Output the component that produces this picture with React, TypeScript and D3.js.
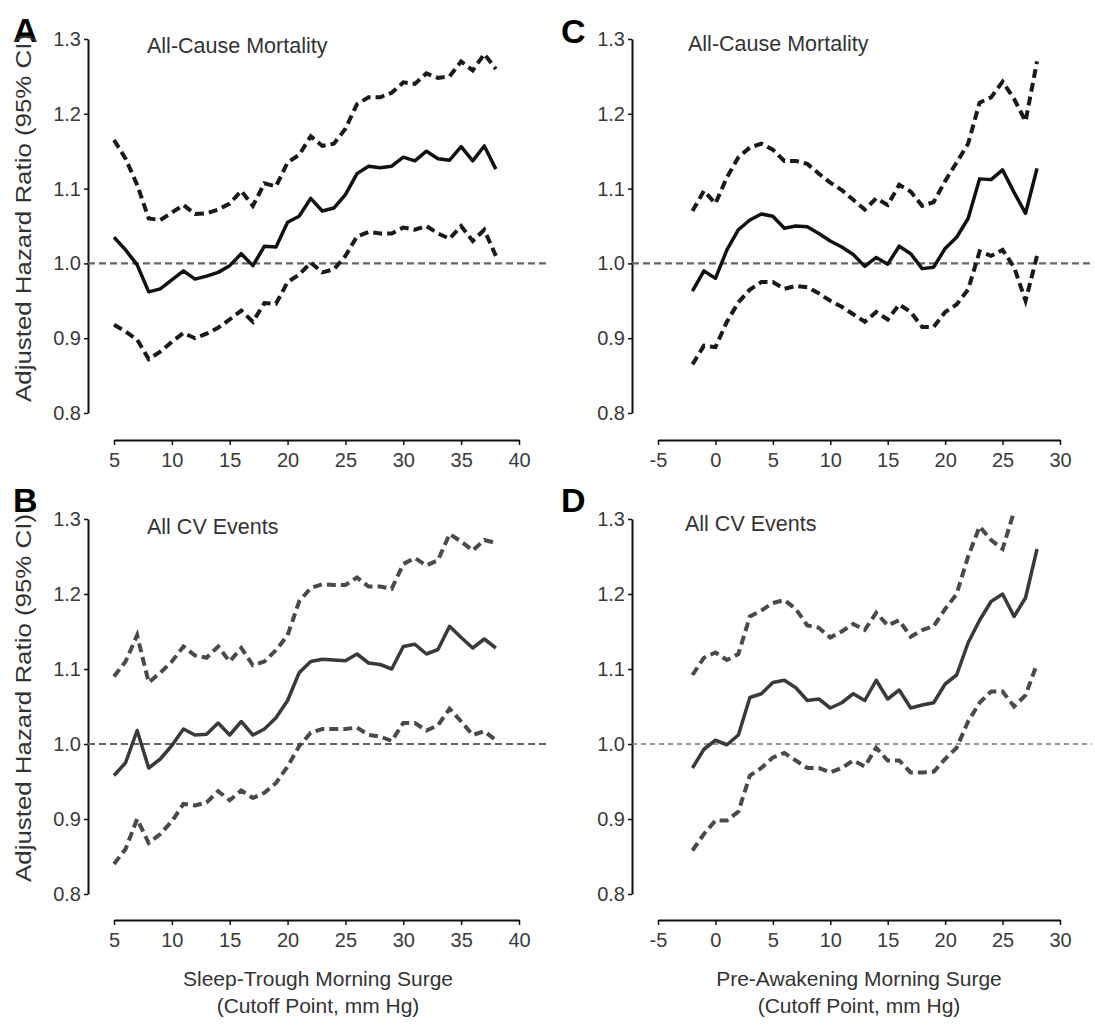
import * as d3 from 'd3';
import React, { useEffect, useRef } from 'react';

// cutoff points (mm Hg)
const sleepTroughX = [5, 6, 7, 8, 9, 10, 11, 12, 13, 14, 15, 16, 17, 18, 19, 20, 21, 22, 23, 24, 25, 26, 27, 28, 29, 30, 31, 32, 33, 34, 35, 36, 37, 38];
const preAwakeX = [-2, -1, 0, 1, 2, 3, 4, 5, 6, 7, 8, 9, 10, 11, 12, 13, 14, 15, 16, 17, 18, 19, 20, 21, 22, 23, 24, 25, 26, 27, 28];
const preAwakeXUpperD = [-2, -1, 0, 1, 2, 3, 4, 5, 6, 7, 8, 9, 10, 11, 12, 13, 14, 15, 16, 17, 18, 19, 20, 21, 22, 23, 24, 25, 26];

// A: sleep-trough, all-cause mortality
const aHR = [1.035, 1.018, 0.998, 0.962, 0.966, 0.978, 0.990, 0.979, 0.983, 0.988, 0.997, 1.013, 0.997, 1.023, 1.022, 1.055, 1.063, 1.087, 1.070, 1.074, 1.092, 1.120, 1.130, 1.128, 1.130, 1.142, 1.137, 1.150, 1.140, 1.138, 1.156, 1.137, 1.157, 1.126];
const aUpper = [1.165, 1.140, 1.105, 1.060, 1.058, 1.068, 1.078, 1.066, 1.067, 1.072, 1.080, 1.097, 1.077, 1.107, 1.103, 1.135, 1.145, 1.170, 1.157, 1.160, 1.180, 1.213, 1.222, 1.222, 1.228, 1.242, 1.240, 1.254, 1.248, 1.250, 1.270, 1.258, 1.280, 1.260];
const aLower = [0.918, 0.909, 0.898, 0.872, 0.882, 0.895, 0.907, 0.900, 0.906, 0.914, 0.925, 0.937, 0.922, 0.947, 0.946, 0.975, 0.985, 1.001, 0.988, 0.992, 1.010, 1.036, 1.042, 1.040, 1.040, 1.048, 1.045, 1.050, 1.040, 1.033, 1.050, 1.030, 1.045, 1.010];

// B: sleep-trough, all CV events
const bHR = [0.958, 0.975, 1.018, 0.968, 0.980, 0.998, 1.020, 1.012, 1.013, 1.028, 1.012, 1.030, 1.012, 1.020, 1.035, 1.058, 1.095, 1.110, 1.113, 1.112, 1.111, 1.120, 1.108, 1.106, 1.100, 1.130, 1.133, 1.120, 1.126, 1.157, 1.142, 1.128, 1.140, 1.128];
const bUpper = [1.090, 1.110, 1.145, 1.082, 1.095, 1.110, 1.130, 1.118, 1.115, 1.130, 1.110, 1.128, 1.105, 1.110, 1.125, 1.145, 1.190, 1.208, 1.213, 1.212, 1.212, 1.222, 1.210, 1.210, 1.207, 1.240, 1.248, 1.238, 1.245, 1.280, 1.270, 1.258, 1.272, 1.268];
const bLower = [0.840, 0.860, 0.900, 0.868, 0.880, 0.897, 0.920, 0.918, 0.922, 0.937, 0.925, 0.938, 0.928, 0.935, 0.948, 0.970, 0.997, 1.015, 1.020, 1.020, 1.020, 1.022, 1.012, 1.010, 1.004, 1.028, 1.028, 1.018, 1.025, 1.047, 1.030, 1.012, 1.017, 1.005];

// C: pre-awakening, all-cause mortality
const cHR = [0.963, 0.990, 0.980, 1.018, 1.045, 1.058, 1.066, 1.063, 1.047, 1.050, 1.049, 1.040, 1.030, 1.022, 1.012, 0.996, 1.008, 0.999, 1.023, 1.013, 0.993, 0.995, 1.020, 1.035, 1.060, 1.113, 1.112, 1.125, 1.095, 1.067, 1.127];
const cUpper = [1.070, 1.097, 1.080, 1.115, 1.142, 1.155, 1.160, 1.152, 1.137, 1.137, 1.133, 1.120, 1.108, 1.098, 1.085, 1.072, 1.087, 1.078, 1.105, 1.096, 1.077, 1.082, 1.110, 1.135, 1.160, 1.215, 1.222, 1.243, 1.220, 1.190, 1.270];
const cLower = [0.865, 0.890, 0.888, 0.922, 0.948, 0.965, 0.975, 0.975, 0.966, 0.970, 0.968, 0.960, 0.950, 0.942, 0.932, 0.922, 0.935, 0.925, 0.945, 0.935, 0.915, 0.915, 0.935, 0.945, 0.965, 1.016, 1.010, 1.018, 0.995, 0.950, 1.010];

// D: pre-awakening, all CV events
const dHR = [0.968, 0.993, 1.005, 0.999, 1.012, 1.062, 1.067, 1.082, 1.085, 1.075, 1.058, 1.060, 1.048, 1.055, 1.067, 1.058, 1.085, 1.060, 1.072, 1.048, 1.052, 1.055, 1.080, 1.092, 1.135, 1.165, 1.190, 1.200, 1.170, 1.195, 1.260];
const dUpper = [1.092, 1.115, 1.122, 1.112, 1.120, 1.170, 1.178, 1.188, 1.192, 1.180, 1.158, 1.155, 1.142, 1.150, 1.160, 1.152, 1.175, 1.158, 1.165, 1.143, 1.152, 1.157, 1.180, 1.200, 1.250, 1.290, 1.272, 1.260, 1.310];
const dLower = [0.858, 0.880, 0.898, 0.898, 0.910, 0.958, 0.968, 0.982, 0.988, 0.978, 0.968, 0.968, 0.962, 0.968, 0.978, 0.970, 0.995, 0.978, 0.978, 0.962, 0.962, 0.963, 0.980, 0.995, 1.030, 1.055, 1.070, 1.070, 1.050, 1.065, 1.107];

const yTicks = [0.8, 0.9, 1.0, 1.1, 1.2, 1.3];
const sleepTicks = [5, 10, 15, 20, 25, 30, 35, 40];
const preTicks = [-5, 0, 5, 10, 15, 20, 25, 30];

const FONT = '"Liberation Sans", Arial, sans-serif';

function App() {
    const ref = useRef();

    useEffect(() => {
        const svg = d3.select(ref.current);
        svg.selectAll('*').remove();

        const panels = [
            { letter: 'A', title: 'All-Cause Mortality', xs: sleepTroughX, hr: aHR, up: aUpper, upX: sleepTroughX, lo: aLower,
              xDom: [5, 40], xRange: [114, 519], yRange: [413, 39], axisY: 440, yAxisX: 88, refEnd: 546, gray: false, thinRef: false,
              letterX: 13, letterY: 42, titleX: 147, titleY: 53 },
            { letter: 'B', title: 'All CV Events', xs: sleepTroughX, hr: bHR, up: bUpper, upX: sleepTroughX, lo: bLower,
              xDom: [5, 40], xRange: [114, 519], yRange: [894, 519], axisY: 920, yAxisX: 88, refEnd: 546, gray: true, thinRef: false,
              letterX: 13, letterY: 512, titleX: 147, titleY: 534 },
            { letter: 'C', title: 'All-Cause Mortality', xs: preAwakeX, hr: cHR, up: cUpper, upX: preAwakeX, lo: cLower,
              xDom: [-5, 30], xRange: [658, 1060], yRange: [413, 39], axisY: 440, yAxisX: 632, refEnd: 1092, gray: false, thinRef: false,
              letterX: 561, letterY: 43, titleX: 688, titleY: 51 },
            { letter: 'D', title: 'All CV Events', xs: preAwakeX, hr: dHR, up: dUpper, upX: preAwakeXUpperD, lo: dLower,
              xDom: [-5, 30], xRange: [658, 1060], yRange: [894, 519], axisY: 920, yAxisX: 632, refEnd: 1092, gray: true, thinRef: true,
              letterX: 561, letterY: 512, titleX: 685, titleY: 531 },
        ];

        panels.forEach(p => {
            const x = d3.scaleLinear().domain(p.xDom).range(p.xRange);
            const y = d3.scaleLinear().domain([0.8, 1.3]).range(p.yRange);
            const g = svg.append('g');

            // y axis
            const ya = g.append('g')
                .attr('transform', `translate(${p.yAxisX},0)`)
                .call(d3.axisLeft(y).tickValues(yTicks).tickFormat(d3.format('.1f')).tickSize(4).tickSizeOuter(0).tickPadding(3));
            ya.select('.domain').attr('stroke', '#111').attr('stroke-width', 2);
            ya.selectAll('.tick line').attr('stroke', '#111').attr('stroke-width', 1.5);
            ya.selectAll('text').attr('font-family', FONT).attr('font-size', 20).attr('fill', '#3a3a3a');

            // x axis
            const xa = g.append('g')
                .attr('transform', `translate(0,${p.axisY})`)
                .call(d3.axisBottom(x).tickValues(p.xDom[0] === 5 ? sleepTicks : preTicks)
                    .tickFormat(d => String(d)).tickSize(5).tickSizeOuter(0).tickPadding(8));
            xa.select('.domain').attr('stroke', '#111').attr('stroke-width', 2);
            xa.selectAll('.tick line').attr('stroke', '#111').attr('stroke-width', 1.5);
            xa.selectAll('text').attr('font-family', FONT).attr('font-size', 20).attr('fill', '#3a3a3a');

            // reference line at 1.0
            g.append('line')
                .attr('x1', p.yAxisX).attr('x2', p.refEnd)
                .attr('y1', y(1)).attr('y2', y(1))
                .attr('stroke', p.thinRef ? '#777' : '#666')
                .attr('stroke-width', p.thinRef ? 1.3 : 2.2)
                .attr('stroke-dasharray', p.thinRef ? '5 4' : '7 4');

            const color = p.gray ? '#3a3a3a' : '#111';
            const ci = p.gray ? '#4a4a4a' : '#1a1a1a';

            const line = d3.line().x(d => x(d[0])).y(d => y(d[1]));

            [[p.upX, p.up], [p.xs, p.lo]].forEach(([xs, vals]) => {
                g.append('path')
                    .attr('d', line(xs.map((v, i) => [v, vals[i]])))
                    .attr('fill', 'none')
                    .attr('stroke', ci)
                    .attr('stroke-width', 4)
                    .attr('stroke-dasharray', '9 5');
            });

            g.append('path')
                .attr('d', line(p.xs.map((v, i) => [v, p.hr[i]])))
                .attr('fill', 'none')
                .attr('stroke', color)
                .attr('stroke-width', 3.5)
                .attr('stroke-linejoin', 'round');

            g.append('text')
                .attr('x', p.letterX).attr('y', p.letterY)
                .attr('font-family', FONT).attr('font-weight', 'bold').attr('font-size', 34)
                .attr('fill', '#000')
                .text(p.letter);

            g.append('text')
                .attr('x', p.titleX).attr('y', p.titleY)
                .attr('font-family', FONT).attr('font-size', 21.5)
                .attr('fill', '#333')
                .text(p.title);
        });

        // y axis titles
        [218, 698].forEach(cy => {
            svg.append('text')
                .attr('transform', `translate(31,${cy}) rotate(-90)`)
                .attr('text-anchor', 'middle')
                .attr('font-family', FONT).attr('font-size', 22)
                .attr('fill', '#333')
                .attr('textLength', 368).attr('lengthAdjust', 'spacingAndGlyphs')
                .text('Adjusted Hazard Ratio (95% CI)');
        });

        // x axis titles
        [[318, 'Sleep-Trough Morning Surge'], [859, 'Pre-Awakening Morning Surge']].forEach(([cx, label]) => {
            const t = svg.append('text')
                .attr('text-anchor', 'middle')
                .attr('font-family', FONT).attr('font-size', 21)
                .attr('fill', '#333');
            t.append('tspan').attr('x', cx).attr('y', 986).text(label);
            t.append('tspan').attr('x', cx).attr('y', 1013).text('(Cutoff Point, mm Hg)');
        });
    }, []);

    return (
        <svg ref={ref} width={1095} height={1031}
            style={{ position: 'absolute', left: 0, top: 0, background: '#fff' }}></svg>
    );
}

export default App;
